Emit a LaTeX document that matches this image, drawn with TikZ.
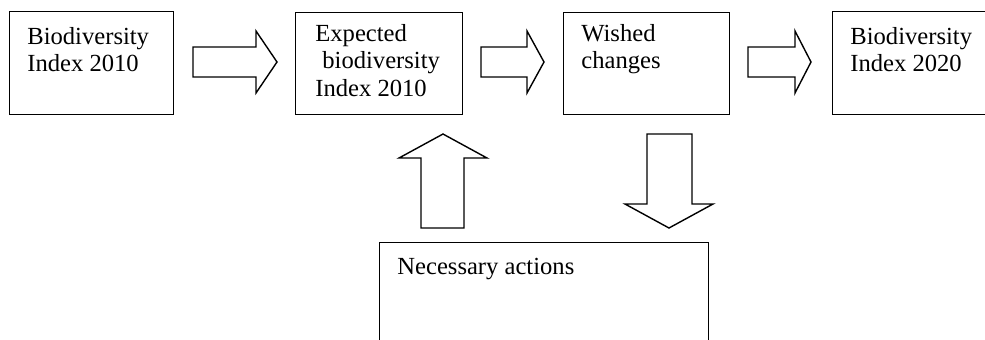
\documentclass[tikz,border=0pt]{standalone}
\usepackage{fontspec}
\setmainfont{Liberation Serif}
\begin{document}
\begin{tikzpicture}[x=0.5pt,y=-0.5pt,
  line join=miter,
  boxline/.style={draw=black,line width=0.7pt},
  blockarrow/.style={draw=black,line width=0.7pt,fill=white},
  boxtext/.style={anchor=base west,inner sep=0pt,font=\fontsize{12.3}{13.9}\selectfont}]
\useasboundingbox (0,0) rectangle (985,339);
\begin{scope}
\clip (0,0) rectangle (985,339);

% process boxes
\node[boxline,anchor=north west,minimum width=164*0.5pt,minimum height=103*0.5pt,inner sep=0pt] (bi2010) at (9,11) {};
\node[boxline,anchor=north west,minimum width=167*0.5pt,minimum height=102*0.5pt,inner sep=0pt] (expected) at (295,12) {};
\node[boxline,anchor=north west,minimum width=166*0.5pt,minimum height=102*0.5pt,inner sep=0pt] (wished) at (563,12) {};
\node[boxline,anchor=north west,minimum width=180*0.5pt,minimum height=103*0.5pt,inner sep=0pt] (bi2020) at (832,11) {};
\node[boxline,anchor=north west,minimum width=329*0.5pt,minimum height=120*0.5pt,inner sep=0pt] (actions) at (379,242) {};

% box labels
\node[boxtext] (t1) at (27,44) {\begin{tabular}[t]{@{}l@{}}Biodiversity\\Index 2010\end{tabular}};
\node[boxtext] (t2) at (315,41) {\begin{tabular}[t]{@{}l@{}}Expected\\\hspace{3.5pt}biodiversity\\Index 2010\end{tabular}};
\node[boxtext] (t3) at (581,41) {\begin{tabular}[t]{@{}l@{}}Wished\\changes\end{tabular}};
\node[boxtext] (t4) at (850,44) {\begin{tabular}[t]{@{}l@{}}Biodiversity\\Index 2020\end{tabular}};
\node[boxtext] (t5) at (397,274) {Necessary actions};

% block arrows between the boxes
\draw[blockarrow] (193,47) -- (256,47) -- (256,31) -- (277,62) -- (256,93) -- (256,77) -- (193,77) -- cycle;
\draw[blockarrow] (481,47) -- (527,47) -- (527,31) -- (544,62) -- (527,93) -- (527,77) -- (481,77) -- cycle;
\draw[blockarrow] (748,47) -- (795,47) -- (795,31) -- (811,62) -- (795,93) -- (795,77) -- (748,77) -- cycle;

% up arrow from the actions box, down arrow from the wished changes
\draw[blockarrow] (421,228) -- (421,158) -- (399,158) -- (443,134) -- (487,158) -- (464,158) -- (464,228) -- cycle;
\draw[blockarrow] (647,134) -- (692,134) -- (692,204) -- (713,204) -- (669,228) -- (625,204) -- (647,204) -- cycle;
\end{scope}
\end{tikzpicture}
\end{document}
